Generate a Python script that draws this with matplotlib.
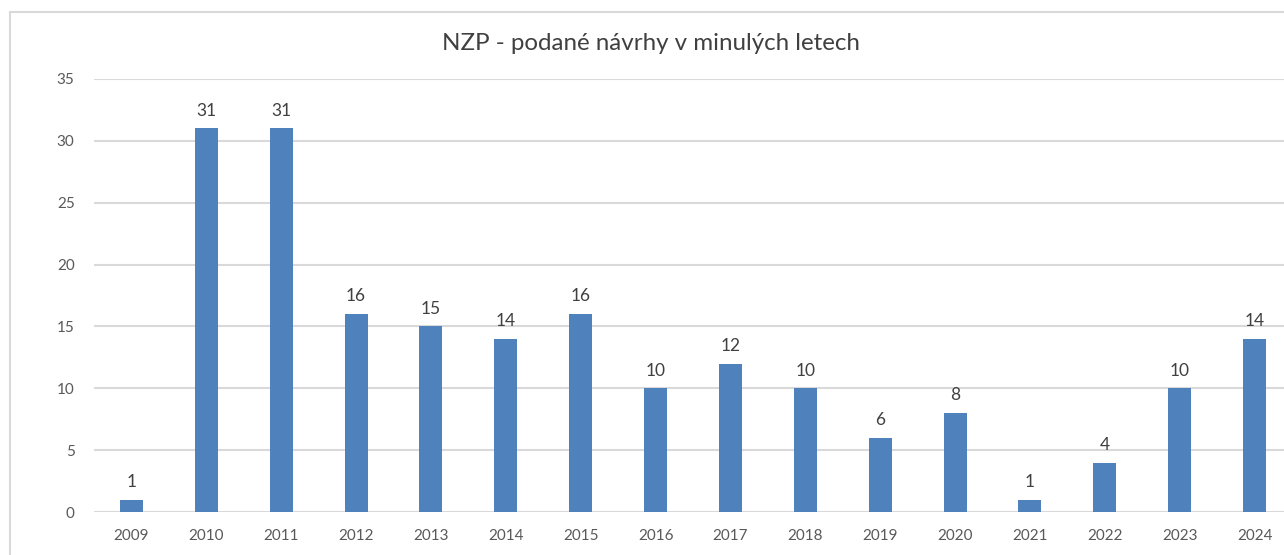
import matplotlib

matplotlib.use("Agg")
import matplotlib.pyplot as plt
from matplotlib.patches import Rectangle

years = ["2009", "2010", "2011", "2012", "2013", "2014", "2015", "2016",
         "2017", "2018", "2019", "2020", "2021", "2022", "2023", "2024"]
counts = [1, 31, 31, 16, 15, 14, 16, 10, 12, 10, 6, 8, 1, 4, 10, 14]
y_ticks = [0, 5, 10, 15, 20, 25, 30, 35]

W, H = 1284, 555
plt.rcParams["font.family"] = ["Lato", "DejaVu Sans"]

fig = plt.figure(figsize=(W / 100, H / 100), dpi=100)

# chart frame (only top/left visible in the crop)
fig.patches.append(Rectangle((10 / W, -0.1), 1.2, 1 - 12 / H + 0.1, transform=fig.transFigure,
                             fill=False, edgecolor="#D9D9D9", linewidth=1.5))

left, right = 94 / W, 1292 / W
bottom, top = 1 - 512 / H, 1 - 79 / H
ax = fig.add_axes([left, bottom, right - left, top - bottom])

x = range(len(years))
bars = ax.bar(x, counts, width=0.307, color="#4F81BD", zorder=3)
for rect, v in zip(bars, counts):
    ax.annotate(str(v), (rect.get_x() + rect.get_width() / 2, v), xytext=(0, 7),
                textcoords="offset points", ha="center", va="bottom",
                fontsize=12.5, color="#404040")

ax.set_xlim(-0.5, len(years) - 0.5)
ax.set_ylim(0, 35)
ax.set_yticks(y_ticks)
ax.set_xticks(list(x))
ax.set_xticklabels(years)
ax.grid(axis="y", color="#D9D9D9", linewidth=1.5, zorder=0)
for s in ax.spines.values():
    s.set_visible(False)
ax.tick_params(axis="both", length=0, labelsize=11, labelcolor="#595959")
ax.tick_params(axis="y", pad=14)
ax.tick_params(axis="x", pad=12)

fig.text(651 / W, 1 - 44 / H, "NZP - podané návrhy v minulých letech", ha="center",
         va="center", fontsize=17.4, color="#404040")

fig.savefig("out.png", dpi=100)
